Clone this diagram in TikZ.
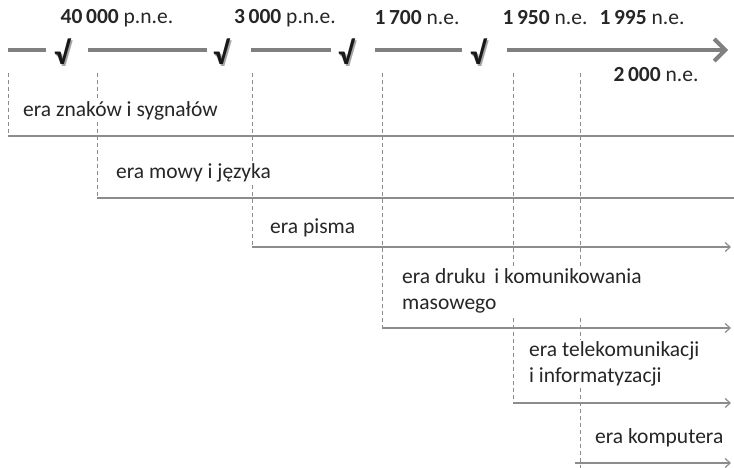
\documentclass[tikz,border=0pt]{standalone}
\usepackage{fontspec}
\setmainfont{Carlito}
\usetikzlibrary{arrows.meta}
\usetikzlibrary{positioning}

\tikzset{
  axis/.style={draw=gray,line width=4pt},
  eraline/.style={draw=gray!90,line width=1.2pt},
  eraarrow/.style={eraline,-{Straight Barb[length=5pt,width=9pt]}},
  guide/.style={draw=gray!90,line width=0.8pt,dash pattern=on 4pt off 3pt},
  datelabel/.style={font=\fontsize{21.5}{24}\selectfont,text=black!85,inner sep=0pt},
  eralabel/.style={font=\fontsize{21.5}{26}\selectfont,text=black!85,fill=white,inner sep=2pt,anchor=west,align=left},
  tick/.style={font=\fontsize{32}{32}\selectfont\bfseries,text=black!90,inner sep=0pt},
  tickshadow/.style={tick,text=black!35}
}

\begin{document}
\begin{tikzpicture}[x=1pt,y=-1pt]
\useasboundingbox[fill=white] (0,0) rectangle (734,468);

% top axis
\draw[axis] (8,50) -- (46,50);
\draw[axis] (88,50) -- (207,50);
\draw[axis] (251,50) -- (331,50);
\draw[axis] (375,50) -- (462,50);
\draw[axis,-{Straight Barb[length=11pt,width=22pt]}] (507,50) -- (728,50);

\foreach \x/\n in {62/1,221/2,346/3,478/4}{
  \node[tickshadow] at (\x+1.5,53.5) {√};
  \node[tick] (v\n) at (\x,52) {√};
}

\node[datelabel] (d1) at (117,18) {\textbf{40\,000} p.n.e.};
\node[datelabel] (d2) at (285,18) {\textbf{3\,000} p.n.e.};
\node[datelabel] (d3) at (417,18) {\textbf{1\,700} n.e.};
\node[datelabel] (d4) at (545,18) {\textbf{1\,950} n.e.};
\node[datelabel] (d5) at (642,18) {\textbf{1\,995} n.e.};
\node[datelabel] (d6) at (656,75) {\textbf{2\,000} n.e.};

% eras
\coordinate (t1) at (8,73);   \coordinate (b1) at (8,136);   \coordinate (e1) at (734,136);
\coordinate (t2) at (97,73);  \coordinate (b2) at (97,198);  \coordinate (e2) at (734,198);
\coordinate (t3) at (252,73); \coordinate (b3) at (252,247); \coordinate (e3) at (731,247);
\coordinate (t4) at (382,73); \coordinate (b4) at (382,328); \coordinate (e4) at (731,328);
\coordinate (t5) at (513,73); \coordinate (b5) at (513,403); \coordinate (e5) at (731,403);
\coordinate (t6) at (580,73); \coordinate (b6) at (580,468); \coordinate (s6) at (575,463);
\coordinate (e6) at (731,463);

\foreach \i in {1,...,6}
  \draw[guide] (t\i) -- (b\i);

\draw[eraline] (b1) -- (e1);
\draw[eraline] (b2) -- (e2);
\draw[eraarrow] (b3) -- (e3);
\draw[eraarrow] (b4) -- (e4);
\draw[eraarrow] (b5) -- (e5);
\draw[eraarrow] (s6) -- (e6);

\node[eralabel] (znaki) at (21,111) {era znaków i sygnałów};
\node[eralabel] (mowa) at (114,173) {era mowy i języka};
\node[eralabel] (pismo) at (268,228) {era pisma};
\node[eralabel] (druk) at (400,291) {era druku\, i komunikowania\\masowego};
\node[eralabel] (tele) at (527,364) {era telekomunikacji\\i informatyzacji};
\node[eralabel] (komp) at (593,438) {era komputera};

\end{tikzpicture}
\end{document}
